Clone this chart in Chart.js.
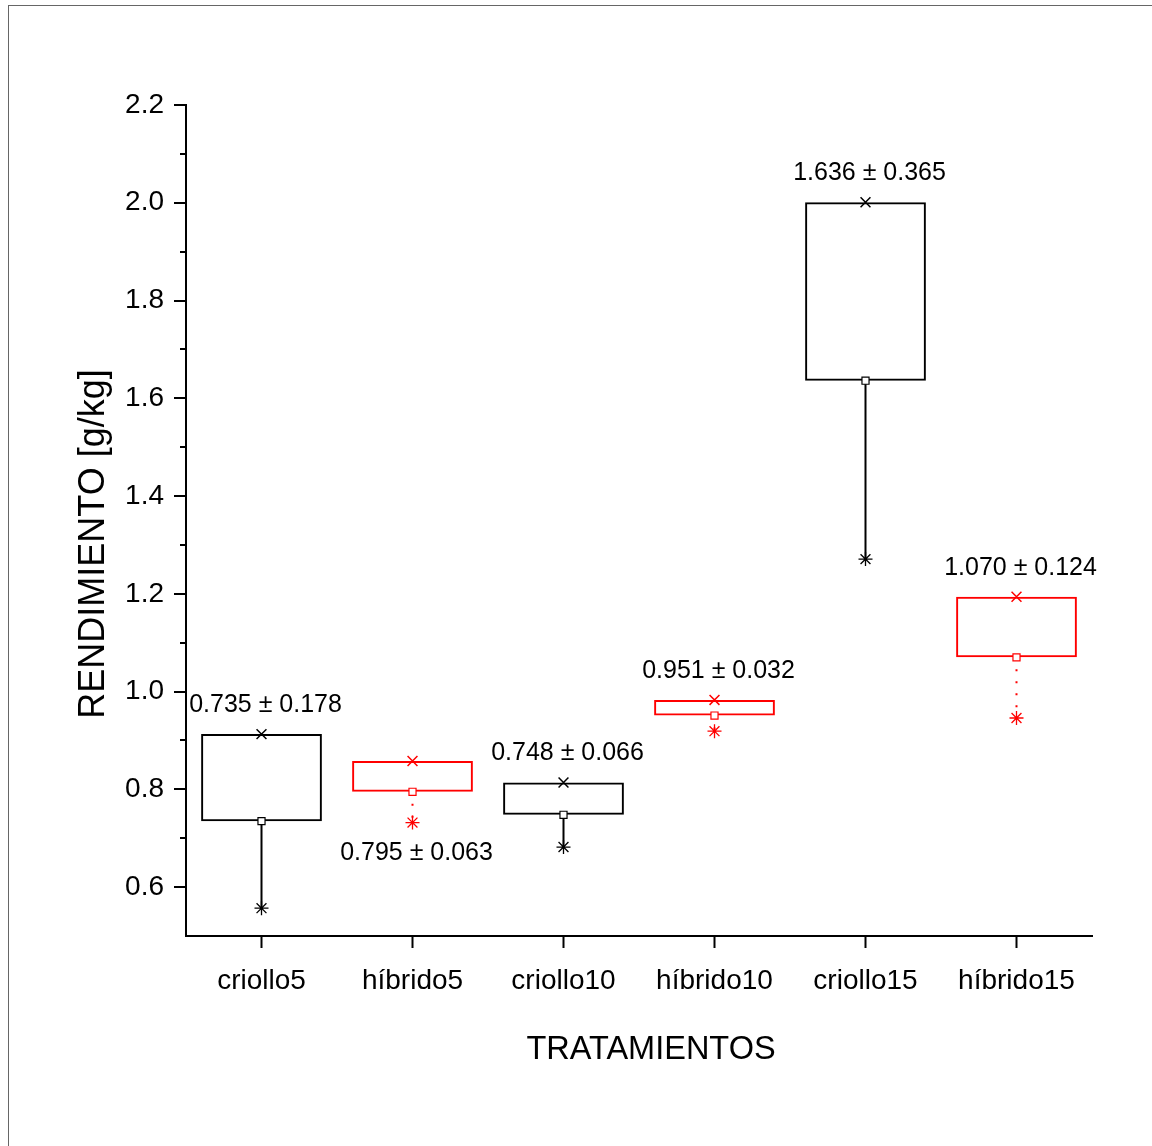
<!DOCTYPE html>
<html>
<head>
<meta charset="utf-8">
<script src="https://cdn.jsdelivr.net/npm/chart.js@4.4.1/dist/chart.umd.min.js"></script>
<style>
    body { margin: 0; background: #fff; }
    #frame { position: absolute; left: 8px; top: 5px; width: 1200px; height: 1200px; border: 1px solid #666; }
    #chart { position: absolute; left: 0; top: 0; }
</style>
</head>
<body>
<div id="frame"></div>
<canvas id="chart" width="1152" height="1146"></canvas>
<script>
// Data
const categories = ['criollo5', 'híbrido5', 'criollo10', 'híbrido10', 'criollo15', 'híbrido15'];
const means = [0.735, 0.795, 0.748, 0.951, 1.636, 1.070];
const sds = [0.178, 0.063, 0.066, 0.032, 0.365, 0.124];
const maxs = [0.913, 0.858, 0.814, 0.983, 2.001, 1.194];
const mins = [0.557, 0.732, 0.682, 0.919, 1.271, 0.946];
const groupColors = ['#000000', '#ff0000', '#000000', '#ff0000', '#000000', '#ff0000'];
const labelSide = ['above', 'below', 'above', 'above', 'above', 'above'];

const FONT = "'Liberation Sans', Arial, sans-serif";

// Whisker lines, one small dataset per category
const whiskers = categories.map((c, i) => ({
    type: 'line',
    data: [{ x: c, y: means[i] }, { x: c, y: mins[i] }],
    borderColor: groupColors[i],
    borderWidth: 2,
    borderDash: groupColors[i] === '#ff0000' ? [2, 10] : [],
    pointRadius: 0,
    order: 3
}));

// Minor / major ticks on the y axis
const yTicks = {
    id: 'yTicks',
    afterDraw(chart) {
        const { ctx, scales: { y }, chartArea } = chart;
        ctx.save();
        ctx.strokeStyle = '#000';
        ctx.lineWidth = 2;
        y.ticks.forEach(t => {
            if (Math.abs(t.value - 0.5) < 1e-6) return;
            const major = Math.round(t.value * 10) % 2 === 0;
            const py = Math.round(y.getPixelForValue(t.value));
            ctx.beginPath();
            ctx.moveTo(chartArea.left - (major ? 12 : 6), py);
            ctx.lineTo(chartArea.left, py);
            ctx.stroke();
        });
        ctx.restore();
    }
};

// "mean ± sd" annotations and the two axis titles
const textLayer = {
    id: 'textLayer',
    afterDatasetsDraw(chart) {
        const { ctx, scales: { x, y } } = chart;
        ctx.save();
        ctx.font = '25px ' + FONT;
        ctx.fillStyle = '#000';
        ctx.textAlign = 'center';
        ctx.textBaseline = 'middle';
        categories.forEach((c, i) => {
            const px = x.getPixelForValue(i) + 4;
            const py = labelSide[i] === 'above'
                ? y.getPixelForValue(maxs[i]) - 29
                : y.getPixelForValue(mins[i]) + 31;
            ctx.fillText(means[i].toFixed(3) + ' ± ' + sds[i].toFixed(3), px, py);
        });

        ctx.font = '32.5px ' + FONT;
        ctx.fillText('TRATAMIENTOS', 651, 1050);

        ctx.translate(94, 544);
        ctx.rotate(-Math.PI / 2);
        ctx.font = '36px ' + FONT;
        ctx.fillText('RENDIMIENTO [g/kg]', 0, 0);
        ctx.restore();
    }
};

new Chart(document.getElementById('chart'), {
    type: 'bar',
    data: {
        labels: categories,
        datasets: [{
            type: 'bar',
            data: categories.map((c, i) => [means[i], maxs[i]]),
            backgroundColor: 'rgba(0,0,0,0)',
            borderColor: groupColors,
            borderWidth: 2,
            borderSkipped: false,
            barPercentage: 0.8,
            categoryPercentage: 1,
            grouped: false,
            order: 2
        },
        ...whiskers,
        {
            type: 'line',
            showLine: false,
            data: categories.map((c, i) => ({ x: c, y: maxs[i] })),
            pointStyle: 'crossRot',
            pointRadius: 7,
            pointBorderColor: groupColors,
            pointBorderWidth: 1.5,
            order: 0
        }, {
            type: 'line',
            showLine: false,
            data: categories.map((c, i) => ({ x: c, y: mins[i] })),
            pointStyle: 'star',
            pointRadius: 7,
            pointBorderColor: groupColors,
            pointBorderWidth: 1.3,
            order: 0
        }, {
            type: 'line',
            showLine: false,
            data: categories.map((c, i) => ({ x: c, y: means[i] })),
            pointStyle: 'rect',
            pointRadius: 5,
            pointBackgroundColor: '#fff',
            pointBorderColor: groupColors,
            pointBorderWidth: 1.2,
            order: 0
        }]
    },
    options: {
        responsive: false,
        animation: false,
        events: [],
        layout: { padding: { top: 105, right: 60, left: 0, bottom: 0 } },
        plugins: {
            legend: { display: false },
            tooltip: { enabled: false }
        },
        scales: {
            x: {
                offset: true,
                grid: { offset: false, drawOnChartArea: false, tickLength: 12, tickWidth: 2, tickColor: '#000' },
                border: { color: '#000', width: 2 },
                ticks: { color: '#000', padding: 16, font: { family: FONT, size: 28 } },
                afterFit(scale) { scale.height = 210; }
            },
            y: {
                min: 0.5,
                max: 2.2,
                grid: { drawOnChartArea: false, drawTicks: false },
                border: { color: '#000', width: 2 },
                ticks: {
                    stepSize: 0.1,
                    padding: 22,
                    color: '#000',
                    font: { family: FONT, size: 28 },
                    callback: v => {
                        const k = Math.round(v * 10);
                        return (k % 2 === 0 && k >= 6) ? (k / 10).toFixed(1) : '';
                    }
                },
                afterFit(scale) { scale.width = 186; }
            }
        }
    },
    plugins: [yTicks, textLayer]
});
</script>
</body>
</html>
